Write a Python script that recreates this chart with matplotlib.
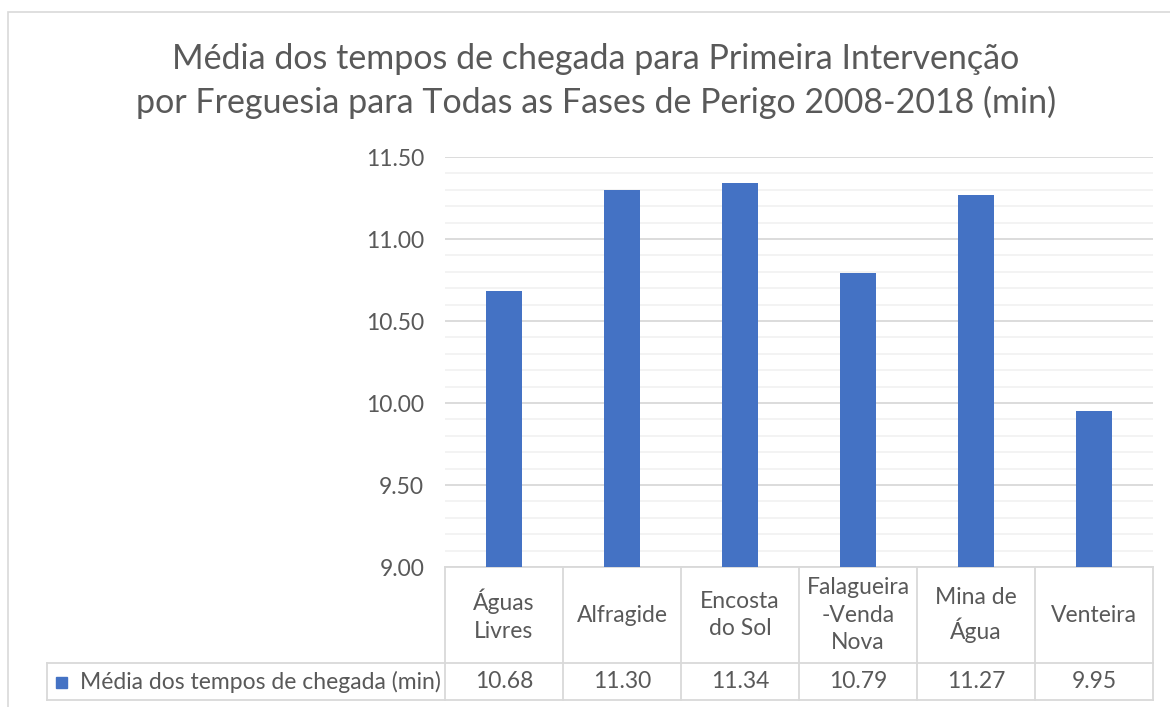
import matplotlib.pyplot as plt
import numpy as np
from matplotlib.patches import Rectangle

freguesias = ['Águas\nLivres', 'Alfragide', 'Encosta\ndo Sol', 'Falagueira\n-Venda\nNova', 'Mina de\nÁgua', 'Venteira']
tempos = [10.68, 11.30, 11.34, 10.79, 11.27, 9.95]
serie = 'Média dos tempos de chegada (min)'
titulo = 'Média dos tempos de chegada para Primeira Intervenção\npor Freguesia para Todas as Fases de Perigo 2008-2018 (min)'

azul = '#4472C4'
cinza_txt = '#595959'
cinza_linha = '#D9D9D9'
fs = 16.5

plt.rcParams['font.family'] = ['Lato', 'DejaVu Sans']

W, H = 1170, 707
fig = plt.figure(figsize=(W / 100, H / 100), dpi=100)

# moldura do grafico (cortada a direita e em baixo)
fig.patches.append(Rectangle((8 / W, -0.1), 1.2, 1 - 12 / H + 0.1, transform=fig.transFigure,
                             fill=False, edgecolor=cinza_linha, lw=1.2))

# area do grafico em pixeis
x0, x1 = 445, 1153
y_top, y_bot = 157, 567
ax = fig.add_axes([x0 / W, 1 - y_bot / H, (x1 - x0) / W, (y_bot - y_top) / H])

x = np.arange(len(tempos))
ax.bar(x, tempos, width=0.31, color=azul, zorder=3)
ax.set_xlim(-0.5, len(tempos) - 0.5)
ax.set_ylim(9.0, 11.5)
ax.set_yticks(np.arange(9.0, 11.51, 0.5))
ax.set_yticks(np.arange(9.0, 11.51, 0.1), minor=True)
ax.yaxis.set_major_formatter(plt.FormatStrFormatter('%.2f'))
ax.tick_params(axis='y', which='both', length=0, labelsize=fs, labelcolor=cinza_txt, pad=15)
ax.set_xticks([])
ax.grid(axis='y', which='major', color=cinza_linha, lw=1.3, zorder=0)
ax.grid(axis='y', which='minor', color='#F2F2F2', lw=1.3, zorder=0)
for s in ['top', 'right', 'left', 'bottom']:
    ax.spines[s].set_visible(False)

# tabela de dados por baixo
h_row = -(663 - y_bot) / (y_bot - y_top)
v_row = -(700 - y_bot) / (y_bot - y_top)
leg_left = (47 - x0) / (x1 - x0)
tr = ax.get_xaxis_transform()
kw = dict(color=cinza_linha, lw=1.3, clip_on=False)
ax.plot([-0.5, len(tempos) - 0.5], [0, 0], transform=tr, **kw)
for i in range(len(tempos) + 1):
    ax.plot([i - 0.5, i - 0.5], [0, v_row], transform=tr, **kw)
ax.plot([leg_left, 1], [h_row, h_row], transform=ax.transAxes, **kw)
ax.plot([leg_left, 1], [v_row, v_row], transform=ax.transAxes, **kw)
ax.plot([leg_left, leg_left], [h_row, v_row], transform=ax.transAxes, **kw)

for i, (nome, v) in enumerate(zip(freguesias, tempos)):
    ax.text(i, h_row / 2, nome, transform=tr, ha='center', va='center', fontsize=fs,
            color=cinza_txt, linespacing=1.4)
    ax.text(i, (h_row + v_row) / 2, f'{v:.2f}', transform=tr, ha='center', va='center',
            fontsize=fs, color=cinza_txt)

ax.add_patch(Rectangle((56 / W, 1 - 688 / H), 11 / W, 11 / H, transform=fig.transFigure,
                       color=azul, clip_on=False))
fig.text(80 / W, 1 - 682 / H, serie, ha='left', va='center', fontsize=fs, color=cinza_txt)

fig.text(596 / W, 1 - 81 / H, titulo, ha='center', va='center', fontsize=24.5,
         color=cinza_txt, linespacing=1.4)

fig.savefig('out.png', dpi=100, facecolor='white')
